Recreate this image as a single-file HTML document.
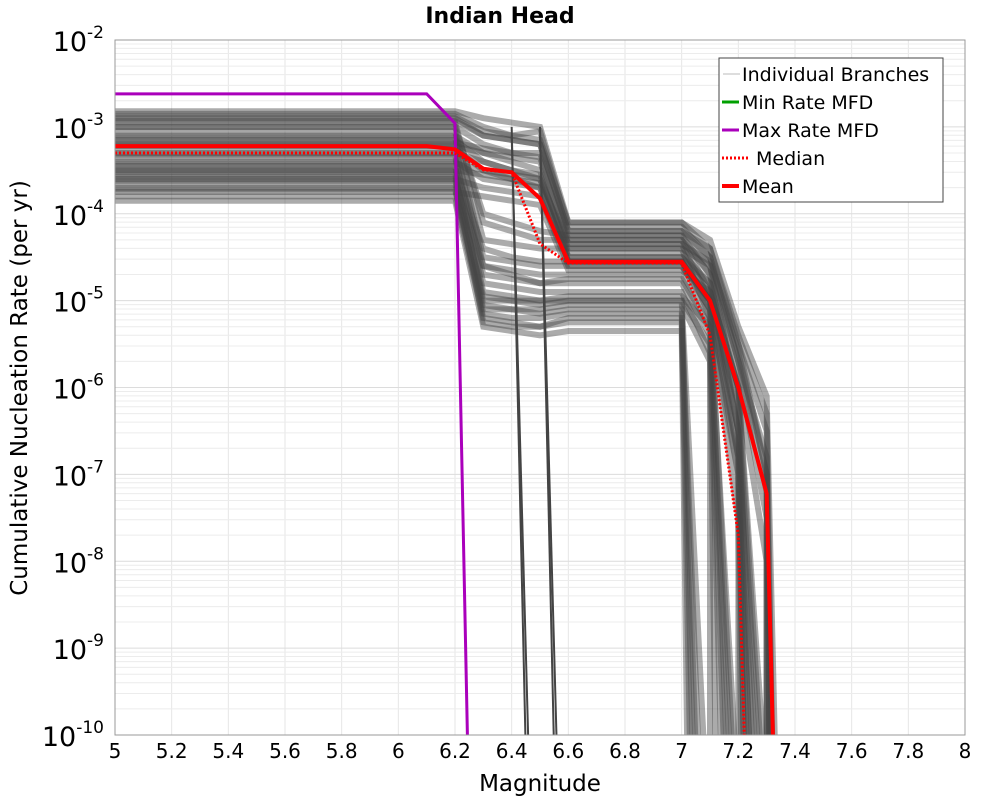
<!DOCTYPE html>
<html><head><meta charset="utf-8"><style>
body{margin:0;background:#fff;}
svg text{font-family:"DejaVu Sans","Liberation Sans",sans-serif;}
</style></head><body>
<svg id="chart" width="1000" height="800" xmlns="http://www.w3.org/2000/svg">
<text x="500" y="23" text-anchor="middle" font-size="22" font-weight="bold">Indian Head</text>
<text x="540" y="791" text-anchor="middle" font-size="23">Magnitude</text>
<text transform="translate(27,388) rotate(-90)" text-anchor="middle" font-size="23">Cumulative Nucleation Rate (per yr)</text>
<g id="grid"></g>
<defs><clipPath id="clip"><rect x="115" y="40" width="850" height="695"/></clipPath></defs>
<g id="branches" clip-path="url(#clip)"></g>
<g id="series" clip-path="url(#clip)"></g>
<rect x="115" y="40" width="850" height="695" fill="none" stroke="#999" stroke-width="1"/>
<g id="ticks"></g>
<g>
<rect x="719" y="58" width="224" height="144" fill="#fff" stroke="#444" stroke-width="1"/>
<line x1="723" y1="74" x2="740" y2="74" stroke="#bbb" stroke-width="1"/>
<text x="742" y="81" font-size="19">Individual Branches</text>
<line x1="722" y1="102" x2="739" y2="102" stroke="#00a000" stroke-width="3"/>
<text x="742" y="109" font-size="19">Min Rate MFD</text>
<line x1="722" y1="130" x2="739" y2="130" stroke="#aa00bb" stroke-width="3"/>
<text x="742" y="137" font-size="19">Max Rate MFD</text>
<line x1="722" y1="158" x2="750" y2="158" stroke="#f00" stroke-width="3" stroke-dasharray="2,2"/>
<text x="756" y="165" font-size="19">Median</text>
<line x1="722" y1="186" x2="739" y2="186" stroke="#f00" stroke-width="4"/>
<text x="742" y="193" font-size="19">Mean</text>
</g>
</svg>
<script>
const xTicks=[5,5.2,5.4,5.6,5.8,6,6.2,6.4,6.6,6.8,7,7.2,7.4,7.6,7.8,8];
const xTickLabels=["5","5.2","5.4","5.6","5.8","6","6.2","6.4","6.6","6.8","7","7.2","7.4","7.6","7.8","8"];
const yDecades=[-2,-3,-4,-5,-6,-7,-8,-9,-10];
const meanMags=[5,6.1,6.2,6.3,6.4,6.5,6.6,7.0,7.1,7.2,7.3,7.33];
const meanVals=[6e-4,6e-4,5.5e-4,3.3e-4,3e-4,1.5e-4,2.8e-5,2.8e-5,1e-5,1e-6,6e-8,1e-11];
const medianMags=[5,6.2,6.3,6.4,6.5,6.6,7.0,7.1,7.2,7.23];
const medianVals=[5e-4,5e-4,3.2e-4,3e-4,4.5e-5,2.7e-5,2.7e-5,4e-6,2e-8,1e-11];
const maxMags=[5,6.1,6.2,6.25];
const maxVals=[2.4e-3,2.4e-3,1.1e-3,1e-11];
// branch: [log10 rate at 5..6.2, at 6.3, 6.4, 6.5, 6.6..7.0, 7.1, 7.2, 7.3, end magnitude]
const branchMags=[5,6.2,6.3,6.4,6.5,6.6,7.0,7.1,7.2,7.3];
const branches=[
[-2.82,-2.9,-2.95,-3.0,-4.1,-4.3,-5.3,-6.1,7.33],
[-2.85,-3.0,-3.1,-3.05,-4.15,-4.5,-5.6,-7.0,7.32],
[-2.9,-3.1,-3.15,-3.2,-4.2,-4.4,-5.5,-6.5,7.31],
[-2.95,-4.1,-4.2,-4.3,-4.3,-4.9,-6.0,-8.0,7.30],
[-3.0,-3.2,-3.3,-3.3,-4.25,-4.6,-6.2,-9.0,7.25],
[-3.05,-4.3,-4.35,-4.4,-4.4,-5.2,-7.5,-10,7.21],
[-3.1,-3.3,-3.35,-3.4,-4.3,-4.7,-5.8,-7.5,7.30],
[-3.15,-3.4,-3.5,-3.6,-4.35,-5.0,-7.0,-10,7.22],
[-3.2,-4.6,-4.7,-4.8,-4.8,-5.4,-8,-10,7.15],
[-3.25,-3.5,-3.55,-3.6,-4.4,-4.6,-5.7,-7.2,7.31],
[-3.3,-3.4,-3.5,-3.55,-4.45,-4.8,-6.5,-9,7.26],
[-3.35,-4.8,-4.85,-4.9,-4.9,-5.6,-9,-10,7.12],
[-3.4,-3.6,-3.65,-3.7,-4.5,-4.9,-6.8,-10,7.20],
[-3.45,-4.9,-4.95,-5.0,-5.0,-5.8,-9,-10,7.08],
[-3.5,-3.55,-3.6,-3.65,-4.55,-5.0,-7.2,-10,7.18],
[-3.55,-5.0,-5.0,-5.05,-5.0,-5.5,-7.5,-10,7.14],
[-3.6,-3.7,-3.75,-3.8,-4.6,-5.1,-7.8,-10,7.16],
[-3.65,-4.95,-5.0,-5.0,-4.95,-5.3,-7,-9.5,7.24],
[-3.7,-5.1,-5.1,-5.15,-5.1,-6.0,-9.5,-10,7.05],
[-3.75,-3.8,-3.85,-3.9,-4.65,-4.9,-6.0,-8,7.28],
[-3.8,-5.2,-5.25,-5.3,-5.2,-5.9,-9,-10,7.03],
[-3.85,-5.3,-5.35,-5.4,-5.35,-6.2,-10,-10,7.02],
[-2.88,-3.05,-3.1,-3.15,-4.1,-4.4,-5.4,-6.3,7.32],
[-3.0,-4.0,-4.1,-4.2,-4.25,-4.7,-6.5,-9,7.23],
[-3.12,-4.5,-4.55,-4.6,-4.6,-5.0,-6.2,-8,7.27],
[-3.22,-3.3,-3.4,-3.5,-4.5,-4.8,-6.0,-7.8,7.29],
[-3.32,-4.7,-4.75,-4.8,-4.75,-5.3,-7.5,-10,7.17],
[-3.42,-3.5,-3.6,-3.7,-4.55,-5.0,-6.5,-9,7.24],
[-3.52,-5.05,-5.1,-5.1,-5.05,-5.7,-8.5,-10,7.10],
[-3.62,-4.6,-4.65,-4.7,-4.7,-5.2,-7,-10,7.19],
[-3.72,-5.15,-5.2,-5.2,-5.15,-5.8,-9,-10,7.06],
[-2.93,-3.1,-3.15,-3.2,-4.2,-4.5,-5.7,-6.8,7.31],
[-3.18,-3.25,-3.3,-3.35,-4.35,-4.55,-5.5,-7.0,7.30],
[-3.48,-4.4,-4.5,-4.55,-4.55,-5.1,-6.8,-9.5,7.22],
[-3.58,-5.25,-5.3,-5.3,-5.25,-6.0,-9.5,-10,7.04]
];
// vertical drop branches: [start magnitude, log10 rate, end magnitude]
const verticalDrops=[[6.4,-3.0,6.45],[6.4,-3.1,6.46],[6.5,-3.0,6.55],[6.5,-3.1,6.56]];
const NS="http://www.w3.org/2000/svg";
const X0=115,X1=965,Y0=40,Y1=735;
function xs(m){return X0+(m-5)/3*(X1-X0);}
function ysLog(l){return Y0+(-2-l)/8*(Y1-Y0);}
function ys(v){return ysLog(Math.log10(v));}
function mk(tag,attrs,parent){const e=document.createElementNS(NS,tag);for(const k in attrs)e.setAttribute(k,attrs[k]);parent.appendChild(e);return e;}
const grid=document.getElementById('grid');
xTicks.forEach(t=>{const l=mk('line',{x1:xs(t),x2:xs(t),y1:Y0,y2:Y1,stroke:'#e6e6e6','stroke-width':1},grid);

});
yDecades.forEach(d=>{for(let k=1;k<10;k++){const v=k*Math.pow(10,d-1);const y=ys(v);if(y<Y0||y>Y1)continue;
const l=mk('line',{x1:X0,x2:X1,y1:y,y2:y,stroke:k==1?'#dcdcdc':'#ececec','stroke-width':1},grid);

}});
const ticks=document.getElementById('ticks');
xTicks.forEach((t,i)=>{const tx=mk('text',{x:xs(t),y:758,'text-anchor':'middle','font-size':20},ticks);tx.textContent=xTickLabels[i];

});
yDecades.forEach(d=>{const y=ysLog(d);const tx=mk('text',{x:104,y:y+11,'text-anchor':'end','font-size':27},ticks);


tx.textContent='10';const s=mk('tspan',{dy:-13,'font-size':17},tx);s.textContent=String(d);});
const bg=document.getElementById('branches');
branches.forEach(b=>{const pts=[];
const vals=[b[0],b[0],b[1],b[2],b[3],b[4],b[4],b[5],b[6],b[7]];
branchMags.forEach((m,i)=>{if(m<=b[8]||i==0)pts.push(xs(Math.min(m,b[8]))+','+ysLog(vals[i]));});
pts.push(xs(b[8])+','+(Y1+20));
const p=mk('polyline',{points:pts.join(' '),fill:'none',stroke:'#444','stroke-opacity':0.45,'stroke-width':6},bg);

});
verticalDrops.forEach(v=>{const p=mk('polyline',{points:xs(v[0])+','+ysLog(v[1])+' '+xs(v[2])+','+(Y1+20),fill:'none',stroke:'#444','stroke-width':2},bg);

});
const sg=document.getElementById('series');
function line(mags,vals,attrs,name){const pts=mags.map((m,i)=>xs(m)+','+ys(vals[i])).join(' ');const p=mk('polyline',Object.assign({points:pts,fill:'none'},attrs),sg);

}
line(maxMags,maxVals,{stroke:'#aa00bb','stroke-width':3},'max-rate-line');
line(medianMags,medianVals,{stroke:'#f00','stroke-width':3,'stroke-dasharray':'2,2'},'median-line');
line(meanMags,meanVals,{stroke:'#f00','stroke-width':4},'mean-line');
</script>
</body></html>
